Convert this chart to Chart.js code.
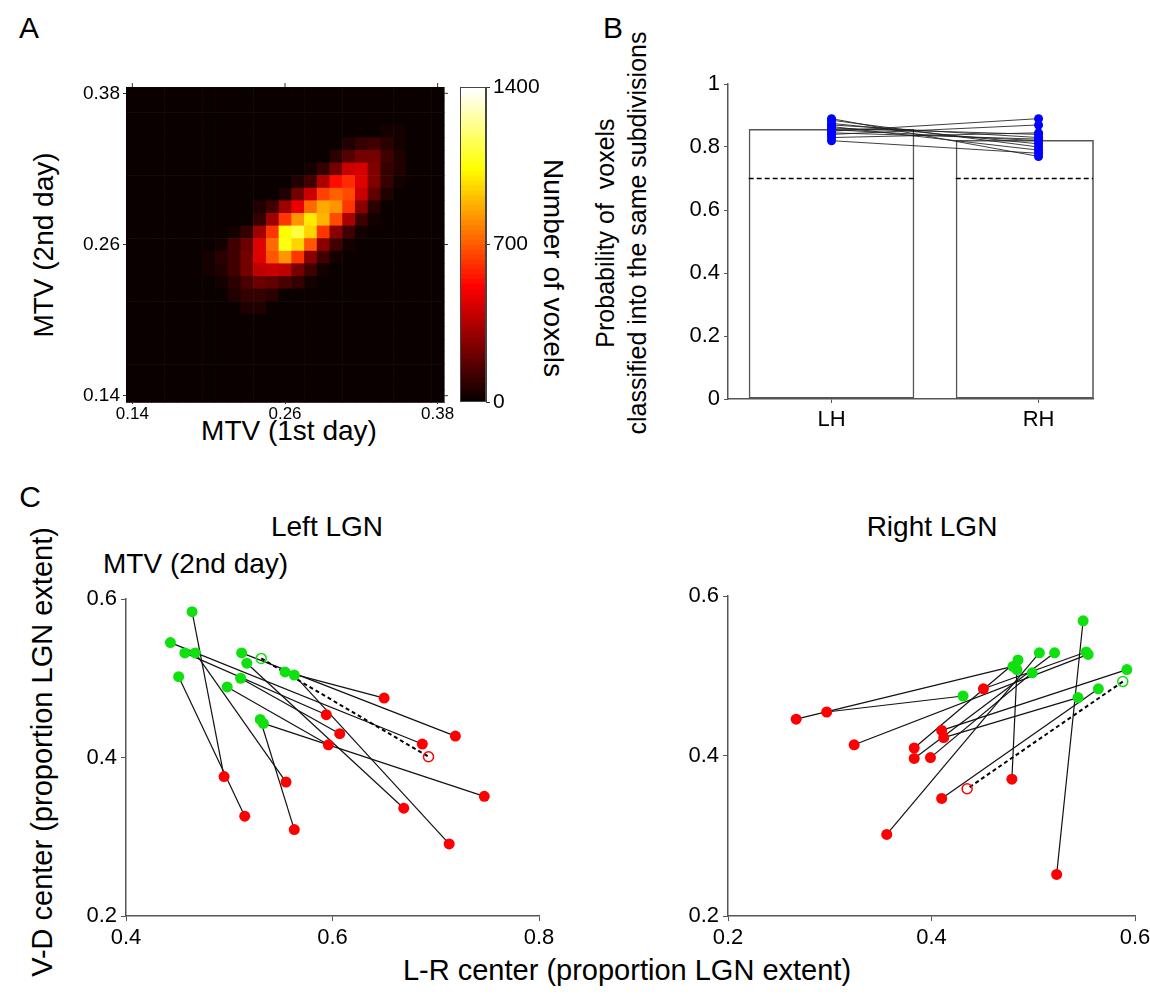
<!DOCTYPE html>
<html>
<head>
<meta charset="utf-8">
<script src="https://cdn.jsdelivr.net/npm/chart.js@4.4.1/dist/chart.umd.min.js"></script>
<style>
body { margin: 0; width: 1150px; height: 998px; background: #fff; position: relative; overflow: hidden;
       font-family: "Liberation Sans", Arial, sans-serif; color: #000; }
canvas { position: absolute; }
.t { position: absolute; white-space: nowrap; line-height: 1; transform: translate(-50%, -50%); }
.rot { transform: translate(-50%, -50%) rotate(-90deg); }
.rot90 { transform: translate(-50%, -50%) rotate(90deg); }
.letter { font-size: 30px; }
.lab { font-size: 28px; }
.two { font-size: 25px; line-height: 32px; text-align: center; }
</style>
</head>
<body>
<div class="t letter" style="left:29px;top:28px">A</div>
<div class="t letter" style="left:613px;top:28px">B</div>
<div class="t letter" style="left:30px;top:497px">C</div>

<div class="t lab" style="left:289px;top:431px">MTV (1st day)</div>
<div class="t lab rot" style="left:44px;top:245px">MTV (2nd day)</div>
<div class="t lab rot90" style="left:553px;top:268px">Number of voxels</div>
<div class="t two rot" style="left:621px;top:233px">Probability of&nbsp; voxels<br>classified into the same subdivisions</div>

<div class="t lab" style="left:327px;top:527px">Left LGN</div>
<div class="t lab" style="left:932px;top:527px">Right LGN</div>
<div class="t lab" style="left:103px;top:564px;transform:translate(0,-50%)">MTV (2nd day)</div>
<div class="t lab rot" style="left:42px;top:752px;font-size:29px">V-D center (proportion LGN extent)</div>
<div class="t lab" style="left:627px;top:970px;font-size:29px">L-R center (proportion LGN extent)</div>

<canvas id="heat"></canvas>
<canvas id="cbar"></canvas>
<canvas id="prob"></canvas>
<canvas id="lgnL"></canvas>
<canvas id="lgnR"></canvas>

<script>
// ---- A: MTV test-retest histogram (25 x 25 bins, rows from 0.38 down to 0.14) ----
var binCenters = [];
for (var b = 0; b < 25; b++) binCenters.push(+(0.14 + b * 0.01).toFixed(2));
var binWidth = 0.01;
var mtvTicks = [0.14, 0.26, 0.38];
var countMax = 1400;
var countTicks = [0, 700, 1400];
var voxelCounts = [
  [0,0,0,0,0, 0,0,0,0,0, 0,0,0,0,0, 0,0,0,0,0, 0,0,0,0,0],
  [0,0,0,0,0, 0,0,0,0,0, 0,0,0,0,0, 0,0,0,0,0, 0,0,0,0,0],
  [0,0,0,0,0, 0,0,0,0,0, 0,0,0,0,0, 0,0,0,0,0, 0,0,0,0,0],
  [0,0,0,0,0, 0,0,0,0,0, 0,0,0,0,0, 0,0,0,0,0, 30,30,0,0,0],
  [0,0,0,0,0, 0,0,0,0,0, 0,0,0,0,0, 0,0,40,80,100, 70,30,0,0,0],
  [0,0,0,0,0, 0,0,0,0,0, 0,0,0,0,0, 0,60,150,230,230, 100,40,0,0,0],
  [0,0,0,0,0, 0,0,0,0,0, 0,0,0,0,30, 90,230,400,420,250, 90,40,0,0,0],
  [0,0,0,0,0, 0,0,0,0,0, 0,0,0,40,110, 330,525,610,440,240, 80,30,0,0,0],
  [0,0,0,0,0, 0,0,0,0,0, 0,0,40,230,400, 650,720,660,400,170, 40,0,0,0,0],
  [0,0,0,0,0, 0,0,0,0,0, 40,120,300,460,740, 870,830,620,270,60, 0,0,0,0,0],
  [0,0,0,0,0, 0,0,0,0,0, 80,320,620,820,990, 880,670,330,100,20, 0,0,0,0,0],
  [0,0,0,0,0, 0,0,0,30,90, 300,630,1050,1140,950, 620,270,100,30,0, 0,0,0,0,0],
  [0,0,0,0,0, 0,0,30,100,210, 440,730,1060,960,680, 260,100,30,0,0, 0,0,0,0,0],
  [0,0,0,0,0, 0,30,60,120,220, 440,680,820,620,260, 100,30,0,0,0, 0,0,0,0,0],
  [0,0,0,0,0, 0,20,40,100,230, 380,400,370,230,100, 30,0,0,0,0, 0,0,0,0,0],
  [0,0,0,0,0, 0,0,30,70,130, 200,180,130,90,30, 0,0,0,0,0, 0,0,0,0,0],
  [0,0,0,0,0, 0,0,0,40,90, 90,70,0,0,0, 0,0,0,0,0, 0,0,0,0,0],
  [0,0,0,0,0, 0,0,0,0,40, 40,0,0,0,0, 0,0,0,0,0, 0,0,0,0,0],
  [0,0,0,0,0, 0,0,0,0,0, 0,0,0,0,0, 0,0,0,0,0, 0,0,0,0,0],
  [0,0,0,0,0, 0,0,0,0,0, 0,0,0,0,0, 0,0,0,0,0, 0,0,0,0,0],
  [0,0,0,0,0, 0,0,0,0,0, 0,0,0,0,0, 0,0,0,0,0, 0,0,0,0,0],
  [0,0,0,0,0, 0,0,0,0,0, 0,0,0,0,0, 0,0,0,0,0, 0,0,0,0,0],
  [0,0,0,0,0, 0,0,0,0,0, 0,0,0,0,0, 0,0,0,0,0, 0,0,0,0,0],
  [0,0,0,0,0, 0,0,0,0,0, 0,0,0,0,0, 0,0,0,0,0, 0,0,0,0,0],
  [0,0,0,0,0, 0,0,0,0,0, 0,0,0,0,0, 0,0,0,0,0, 0,0,0,0,0]
];

// ---- B: probability of same subdivision, per subject ----
var hemis = ['LH', 'RH'];
var hemiMeans = [0.857, 0.822];
var chanceLevel = 0.7;
var lhProb = [0.89, 0.885, 0.875, 0.87, 0.865, 0.86, 0.855, 0.85, 0.845, 0.84, 0.83, 0.82];
var rhProb = [0.77, 0.80, 0.81, 0.83, 0.79, 0.84, 0.82, 0.89, 0.825, 0.87, 0.845, 0.78];
var probTicks = [0, 0.2, 0.4, 0.6, 0.8, 1];

// ---- C: LGN subdivision centers, 1st day (green) -> 2nd day (red) ----
var leftGreenX = [0.464, 0.451, 0.530, 0.533, 0.563, 0.554, 0.512, 0.517, 0.498, 0.467, 0.457, 0.443, 0.511];
var leftGreenY = [0.584, 0.502, 0.448, 0.443, 0.504, 0.508, 0.532, 0.519, 0.489, 0.532, 0.532, 0.545, 0.500];
var leftRedX   = [0.495, 0.515, 0.563, 0.747, 0.713, 0.650, 0.719, 0.669, 0.596, 0.555, 0.594, 0.687, 0.607];
var leftRedY   = [0.376, 0.326, 0.309, 0.351, 0.291, 0.475, 0.427, 0.336, 0.416, 0.369, 0.454, 0.417, 0.430];
var leftOpenGreen = [0.531, 0.525];
var leftOpenRed = [0.693, 0.401];

var rightGreenX = [0.549, 0.564, 0.484, 0.506, 0.431, 0.480, 0.592, 0.544, 0.552, 0.554, 0.485, 0.521, 0.499];
var rightGreenY = [0.569, 0.484, 0.508, 0.529, 0.475, 0.512, 0.508, 0.473, 0.530, 0.527, 0.520, 0.529, 0.504];
var rightRedX   = [0.523, 0.410, 0.479, 0.356, 0.297, 0.267, 0.410, 0.412, 0.451, 0.324, 0.383, 0.383, 0.399];
var rightRedY   = [0.252, 0.347, 0.371, 0.302, 0.455, 0.446, 0.432, 0.423, 0.484, 0.414, 0.410, 0.397, 0.398];
var rightOpenGreen = [0.588, 0.493];
var rightOpenRed = [0.435, 0.359];

var lgnTicksL = [0.4, 0.6, 0.8];
var lgnTicksR = [0.2, 0.4, 0.6];
var lgnTicksY = [0.2, 0.4, 0.6];

// ---------------------------------------------------------------------
Chart.defaults.font.family = '"Liberation Sans", Arial, sans-serif';
Chart.defaults.color = '#000';
Chart.defaults.animation = false;
Chart.defaults.plugins.legend.display = false;
Chart.defaults.plugins.tooltip.enabled = false;

var axisGray = '#555';
var green = '#10e010';
var red = '#ff0000';

function hot(f) {
    var k = Math.max(0, Math.min(63, Math.round(f * 63))) + 1;
    var r = Math.min(1, k / 24);
    var g = Math.max(0, Math.min(1, (k - 24) / 24));
    var bl = Math.max(0, Math.min(1, (k - 48) / 16));
    return 'rgb(' + Math.round(r * 255) + ',' + Math.round(g * 255) + ',' + Math.round(bl * 255) + ')';
}

// canvas placed so that the chart area lands on the given page box
function place(id, area, ext) {
    var c = document.getElementById(id);
    var w = area.r - area.l + ext.left + ext.right;
    var h = area.b - area.t + ext.top + ext.bottom;
    c.width = w; c.height = h;
    c.style.width = w + 'px'; c.style.height = h + 'px';
    c.style.left = (area.l - ext.left) + 'px';
    c.style.top = (area.t - ext.top) + 'px';
    return c;
}

function fixSize(px) {
    return function (scale) {
        if (scale.isHorizontal()) scale.height = px; else scale.width = px;
        scale.paddingLeft = 0; scale.paddingRight = 0;
        scale.paddingTop = 0; scale.paddingBottom = 0;
    };
}

function setTicks(values) {
    return function (scale) {
        scale.ticks = values.map(function (v) { return { value: v }; });
    };
}

function numLabel(v) {
    return String(Number(v.toFixed(2)));
}

// ---- A: heatmap ----
var heatArea = { l: 126, t: 87, r: 444, b: 402 };
var heatCanvas = place('heat', heatArea, { left: 60, right: 12, top: 8, bottom: 24 });

var heatPlugin = {
    id: 'heatCells',
    beforeDatasetsDraw: function (chart) {
        var ctx = chart.ctx, x = chart.scales.x, y = chart.scales.y;
        var n = binCenters.length;
        voxelCounts.forEach(function (row, j) {
            var cy = binCenters[n - 1 - j];
            row.forEach(function (v, i) {
                var cx = binCenters[i];
                var x0 = x.getPixelForValue(cx - binWidth / 2), x1 = x.getPixelForValue(cx + binWidth / 2);
                var y0 = y.getPixelForValue(cy + binWidth / 2), y1 = y.getPixelForValue(cy - binWidth / 2);
                ctx.fillStyle = hot(v / countMax);
                ctx.fillRect(x0, y0, x1 - x0 + 0.6, y1 - y0 + 0.6);
            });
        });
    },
    afterDraw: function (chart) {
        var ctx = chart.ctx, a = chart.chartArea, x = chart.scales.x, y = chart.scales.y;
        ctx.save();
        ctx.strokeStyle = '#333';
        ctx.lineWidth = 1;
        mtvTicks.forEach(function (v) {
            var px = x.getPixelForValue(v), py = y.getPixelForValue(v);
            ctx.beginPath();
            ctx.moveTo(px, a.top); ctx.lineTo(px, a.top - 4);
            ctx.moveTo(a.right, py); ctx.lineTo(a.right + 4, py);
            ctx.stroke();
        });
        ctx.restore();
    }
};

new Chart(heatCanvas, {
    type: 'scatter',
    data: { datasets: [{ data: [] }] },
    options: {
        responsive: false,
        layout: { padding: { top: 8, right: 12, left: 0, bottom: 0 } },
        scales: {
            x: {
                type: 'linear', min: 0.135, max: 0.385,
                afterBuildTicks: setTicks(mtvTicks),
                afterFit: fixSize(24),
                ticks: { callback: numLabel, font: { size: 17 }, padding: 0, maxRotation: 0, autoSkip: false },
                grid: { drawOnChartArea: false, tickLength: 2, color: '#333' },
                border: { color: '#888', width: 1 }
            },
            y: {
                type: 'linear', min: 0.135, max: 0.385,
                afterBuildTicks: setTicks(mtvTicks),
                afterFit: fixSize(60),
                ticks: { callback: numLabel, font: { size: 19 }, padding: 3 },
                grid: { drawOnChartArea: false, tickLength: 3, color: '#333' },
                border: { color: '#888', width: 1 }
            }
        }
    },
    plugins: [heatPlugin]
});

// ---- A: colour bar ----
var cbArea = { l: 460, t: 87, r: 486, b: 402 };
var cbCanvas = place('cbar', cbArea, { left: 2, right: 64, top: 10, bottom: 10 });
var cbSteps = [];
for (var k = 0; k < 64; k++) cbSteps.push(k);

var framePlugin = {
    id: 'frame',
    afterDatasetsDraw: function (chart) {
        var ctx = chart.ctx, a = chart.chartArea;
        ctx.save();
        ctx.strokeStyle = '#444';
        ctx.lineWidth = 1;
        ctx.strokeRect(a.left + 0.5, a.top + 0.5, a.right - a.left - 1, a.bottom - a.top - 1);
        ctx.restore();
    }
};

new Chart(cbCanvas, {
    type: 'bar',
    data: {
        labels: ['cb'],
        datasets: [{
            data: cbSteps.map(function (s) {
                return { x: 'cb', y: [s * countMax / 64, (s + 1) * countMax / 64 + 2] };
            }),
            backgroundColor: cbSteps.map(function (s) { return hot(s / 63); }),
            borderWidth: 0,
            barPercentage: 1,
            categoryPercentage: 1
        }]
    },
    options: {
        responsive: false,
        layout: { padding: { top: 10, right: 0, left: 2, bottom: 10 } },
        scales: {
            x: { display: false },
            y: {
                position: 'right', min: 0, max: countMax,
                afterBuildTicks: setTicks(countTicks),
                afterFit: fixSize(64),
                ticks: { callback: function (v) { return String(v); }, font: { size: 21 }, padding: 3 },
                grid: { drawOnChartArea: false, tickLength: 4, color: '#333' },
                border: { color: '#444', width: 1 }
            }
        }
    },
    plugins: [framePlugin]
});

// ---- B: probability bars ----
var probArea = { l: 728, t: 84, r: 1093, b: 399 };
var probCanvas = place('prob', probArea, { left: 62, right: 12, top: 10, bottom: 40 });
var barFrac = 0.8;
var probMax = 1.263;

var probSets = [];
probSets.push({
    type: 'scatter', data: lhProb.map(function (v) { return { x: 0, y: v }; }),
    pointRadius: 4.5, pointBackgroundColor: '#0000ff', pointBorderWidth: 0
});
probSets.push({
    type: 'scatter', data: rhProb.map(function (v) { return { x: 1, y: v }; }),
    pointRadius: 4.5, pointBackgroundColor: '#0000ff', pointBorderWidth: 0
});
lhProb.forEach(function (v, i) {
    probSets.push({
        type: 'line', data: [{ x: 0, y: v }, { x: 1, y: rhProb[i] }],
        borderColor: 'rgba(30,30,30,0.85)', borderWidth: 1, pointRadius: 0
    });
});
hemis.forEach(function (h, i) {
    probSets.push({
        type: 'line', data: [{ x: i - barFrac / 2, y: chanceLevel }, { x: i + barFrac / 2, y: chanceLevel }],
        borderColor: '#000', borderWidth: 1.6, borderDash: [5, 3], pointRadius: 0
    });
});
// right edge of the RH bar where the axis cuts it off
probSets.push({
    type: 'line', data: [{ x: probMax, y: 0 }, { x: probMax, y: hemiMeans[1] }],
    borderColor: '#555', borderWidth: 1.5, pointRadius: 0, clip: false
});
probSets.push({
    type: 'bar', data: hemiMeans.map(function (v, i) { return { x: i, y: v }; }),
    backgroundColor: 'rgba(255,255,255,0)', borderColor: '#555', borderWidth: 1.5,
    borderSkipped: false, barPercentage: barFrac, categoryPercentage: 1
});

new Chart(probCanvas, {
    type: 'bar',
    data: { datasets: probSets },
    options: {
        responsive: false,
        layout: { padding: { top: 10, right: 12, left: 2, bottom: 0 } },
        scales: {
            x: {
                type: 'linear', min: -0.5, max: probMax, offset: false,
                afterBuildTicks: setTicks([0, 1]),
                afterFit: fixSize(40),
                ticks: { callback: function (v) { return hemis[v]; }, font: { size: 22 }, padding: 4, maxRotation: 0, autoSkip: false },
                grid: { drawOnChartArea: false, tickLength: 4, color: axisGray, offset: false },
                border: { color: axisGray, width: 1.5 }
            },
            y: {
                min: 0, max: 1,
                afterBuildTicks: setTicks(probTicks),
                afterFit: fixSize(60),
                ticks: { callback: numLabel, font: { size: 22 }, padding: 4 },
                grid: { drawOnChartArea: false, tickLength: 4, color: axisGray },
                border: { color: axisGray, width: 1.5 }
            }
        }
    }
});

// ---- C: LGN centers ----
function lgnChart(id, area, gx, gy, rx, ry, og, orr, xTicks) {
    var canvas = place(id, area, { left: 57, right: 16, top: 10, bottom: 42 });
    var sets = [];
    sets.push({
        type: 'scatter', data: gx.map(function (v, i) { return { x: v, y: gy[i] }; }),
        pointRadius: 5.5, pointBackgroundColor: green, pointBorderWidth: 0, clip: false
    });
    sets.push({
        type: 'scatter', data: rx.map(function (v, i) { return { x: v, y: ry[i] }; }),
        pointRadius: 5.5, pointBackgroundColor: red, pointBorderWidth: 0, clip: false
    });
    sets.push({
        type: 'line', data: [{ x: og[0], y: og[1] }, { x: orr[0], y: orr[1] }],
        borderColor: '#000', borderWidth: 2, borderDash: [4, 3],
        pointRadius: 5, pointBackgroundColor: 'rgba(255,255,255,0)',
        pointBorderColor: [green, red], pointBorderWidth: 1.5, clip: false
    });
    gx.forEach(function (v, i) {
        sets.push({
            type: 'line', data: [{ x: v, y: gy[i] }, { x: rx[i], y: ry[i] }],
            borderColor: '#111', borderWidth: 1.2, pointRadius: 0, clip: false
        });
    });
    new Chart(canvas, {
        type: 'scatter',
        data: { datasets: sets },
        options: {
            responsive: false,
            layout: { padding: { top: 10, right: 16, left: 2, bottom: 0 } },
            scales: {
                x: {
                    type: 'linear', min: xTicks[0], max: xTicks[xTicks.length - 1],
                    afterBuildTicks: setTicks(xTicks),
                    afterFit: fixSize(42),
                    ticks: { callback: numLabel, font: { size: 22 }, padding: 4, maxRotation: 0, autoSkip: false },
                    grid: { drawOnChartArea: false, tickLength: 5, color: axisGray },
                    border: { color: axisGray, width: 1.5 }
                },
                y: {
                    type: 'linear', min: lgnTicksY[0], max: lgnTicksY[lgnTicksY.length - 1],
                    afterBuildTicks: setTicks(lgnTicksY),
                    afterFit: fixSize(55),
                    ticks: { callback: numLabel, font: { size: 22 }, padding: 4 },
                    grid: { drawOnChartArea: false, tickLength: 5, color: axisGray },
                    border: { color: axisGray, width: 1.5 }
                }
            }
        }
    });
}

lgnChart('lgnL', { l: 126, t: 599, r: 539, b: 916 }, leftGreenX, leftGreenY, leftRedX, leftRedY, leftOpenGreen, leftOpenRed, lgnTicksL);
lgnChart('lgnR', { l: 728, t: 596, r: 1135, b: 916 }, rightGreenX, rightGreenY, rightRedX, rightRedY, rightOpenGreen, rightOpenRed, lgnTicksR);
</script>
</body>
</html>
